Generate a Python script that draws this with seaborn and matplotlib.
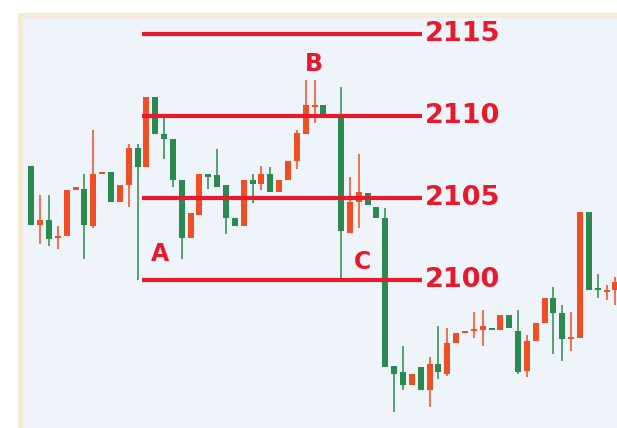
import numpy as np
import pandas as pd
import seaborn as sns
import matplotlib.pyplot as plt
from matplotlib.patches import Rectangle

nan = np.nan
opens = [2107.0, 2103.4, 2103.7, 2102.6, 2102.7, 2105.5, 2105.6, 2103.3, 2106.5, 2106.6,
         2104.8, 2105.8, 2108.1, 2106.9, 2111.2, 2108.9, 2108.6, 2106.1, 2102.6, 2104.0,
         2106.5, 2106.4, 2105.8, 2103.8, 2103.3, 2106.1, 2105.9, 2106.5, 2105.4, 2106.1,
         2107.3, 2108.9, 2110.6, 2110.7, nan, 2109.9, 2102.9, 2104.8, 2105.3, 2104.5,
         2103.8, 2094.8, 2094.4, 2093.6, 2094.7, 2093.3, 2094.9, 2094.3, 2096.2, 2096.8,
         2096.9, 2097.0, 2097.1, 2097.0, 2097.9, 2096.9, 2094.5, 2096.3, 2097.4, 2098.9,
         2098.0, 2096.4, 2096.5, 2104.2, 2099.5, 2099.3, 2099.4]
closes = [2103.4, 2103.7, 2102.5, 2102.7, 2105.5, 2105.7, 2103.4, 2106.5, 2106.6, 2104.8,
          2105.8, 2108.1, 2106.9, 2111.2, 2108.9, 2108.6, 2106.1, 2102.6, 2104.1, 2106.5,
          2106.3, 2105.7, 2103.8, 2103.3, 2106.1, 2105.9, 2106.5, 2105.4, 2106.1, 2107.3,
          2109.0, 2110.7, 2110.7, 2110.1, nan, 2103.0, 2104.8, 2105.4, 2104.6, 2103.8,
          2094.7, 2094.3, 2093.6, 2094.3, 2093.3, 2094.9, 2094.4, 2096.2, 2096.8, 2096.9,
          2097.0, 2097.2, 2097.0, 2097.9, 2097.1, 2094.4, 2096.3, 2097.4, 2098.9, 2098.0,
          2096.4, 2096.5, 2104.2, 2099.4, 2099.4, 2099.4, 2099.9]
highs = [2107.0, 2105.2, 2105.2, 2103.3, 2105.5, 2105.7, 2106.5, 2109.2, 2106.6, 2106.6,
         2105.8, 2108.3, 2108.3, 2111.2, 2111.2, 2109.9, 2108.6, 2106.1, 2104.1, 2106.5,
         2106.5, 2108.0, 2105.8, 2103.8, 2106.1, 2106.5, 2107.0, 2106.9, 2106.1, 2107.3,
         2109.2, 2112.2, 2112.2, 2110.7, nan, 2111.8, 2106.3, 2107.7, 2105.3, 2104.5,
         2104.4, 2094.8, 2096.0, 2094.3, 2094.7, 2095.3, 2097.2, 2097.1, 2096.8, 2096.9,
         2098.1, 2098.2, 2097.1, 2097.9, 2097.9, 2098.2, 2096.7, 2097.4, 2098.9, 2099.6,
         2098.5, 2098.1, 2104.2, 2104.2, 2100.4, 2099.7, 2100.2]
lows = [2103.4, 2102.2, 2102.1, 2101.9, 2102.7, 2105.5, 2101.3, 2103.2, 2106.5, 2104.8,
        2104.8, 2104.5, 2100.0, 2106.9, 2108.9, 2107.4, 2105.7, 2101.3, 2102.6, 2104.0,
        2105.6, 2105.7, 2102.8, 2103.3, 2103.3, 2104.7, 2105.5, 2105.4, 2105.4, 2106.1,
        2106.8, 2108.9, 2109.6, 2110.1, nan, 2099.9, 2102.9, 2103.2, 2104.6, 2103.8,
        2094.7, 2092.0, 2093.3, 2093.6, 2093.3, 2092.3, 2094.0, 2094.2, 2096.2, 2096.8,
        2096.5, 2096.0, 2097.0, 2097.0, 2097.1, 2094.3, 2094.1, 2096.3, 2097.4, 2095.5,
        2095.1, 2095.7, 2096.5, 2099.4, 2098.9, 2098.8, 2098.5]

levels = [2115, 2110, 2105, 2100]
level_labels = ["2115", "2110", "2105", "2100"]
points = ["A", "B", "C"]
point_x = [14.5, 31.9, 37.4]
point_y = [2101.6, 2113.2, 2101.1]

df = pd.DataFrame({"open": opens, "close": closes, "high": highs, "low": lows})
df["idx"] = np.arange(len(df))
df = df.dropna()
up = df["close"] >= df["open"]
red, green = "#F04E23", "#2B8A4F"
df["color"] = np.where(up, red, green)
df["bottom"] = df[["open", "close"]].min(axis=1)
df["height"] = (df["close"] - df["open"]).abs().clip(lower=0.12)

sns.set_style("white")
fig = plt.figure(figsize=(6.17, 4.28), dpi=100, facecolor="white")
# beige frame behind the chart panel
fig.patches.append(Rectangle((18 / 617, 0), 1, (428 - 13) / 428, transform=fig.transFigure,
                             facecolor="#F6E9D6", edgecolor="none", zorder=-1))
ax = fig.add_axes([23 / 617, 0, 1 - 23 / 617, (428 - 18) / 428])
ax.set_facecolor("#EEF4FA")

ax.vlines(df["idx"], df["low"], df["high"], colors=df["color"], linewidth=1.1, zorder=2)
ax.bar(df["idx"], df["height"], bottom=df["bottom"], width=0.68, color=df["color"],
       linewidth=0, zorder=3)

line_red = "#E8192C"
for lv, lab in zip(levels, level_labels):
    ax.hlines(lv, 12.5, 44.2, colors=line_red, linewidth=3, zorder=4)
    ax.text(44.5, lv, lab, color=line_red, fontsize=19.5, fontweight="bold",
            va="center", ha="left", zorder=5)
for lab, x, y in zip(points, point_x, point_y):
    ax.text(x, y, lab, color=line_red, fontsize=17, fontweight="bold",
            va="center", ha="center", zorder=5)

ax.set_xlim(-0.94, 66.18)
ax.set_ylim(2091.0, 2116.0)
ax.set_xticks([])
ax.set_yticks([])
for s in ax.spines.values():
    s.set_visible(False)

fig.savefig("out.png", dpi=100)
